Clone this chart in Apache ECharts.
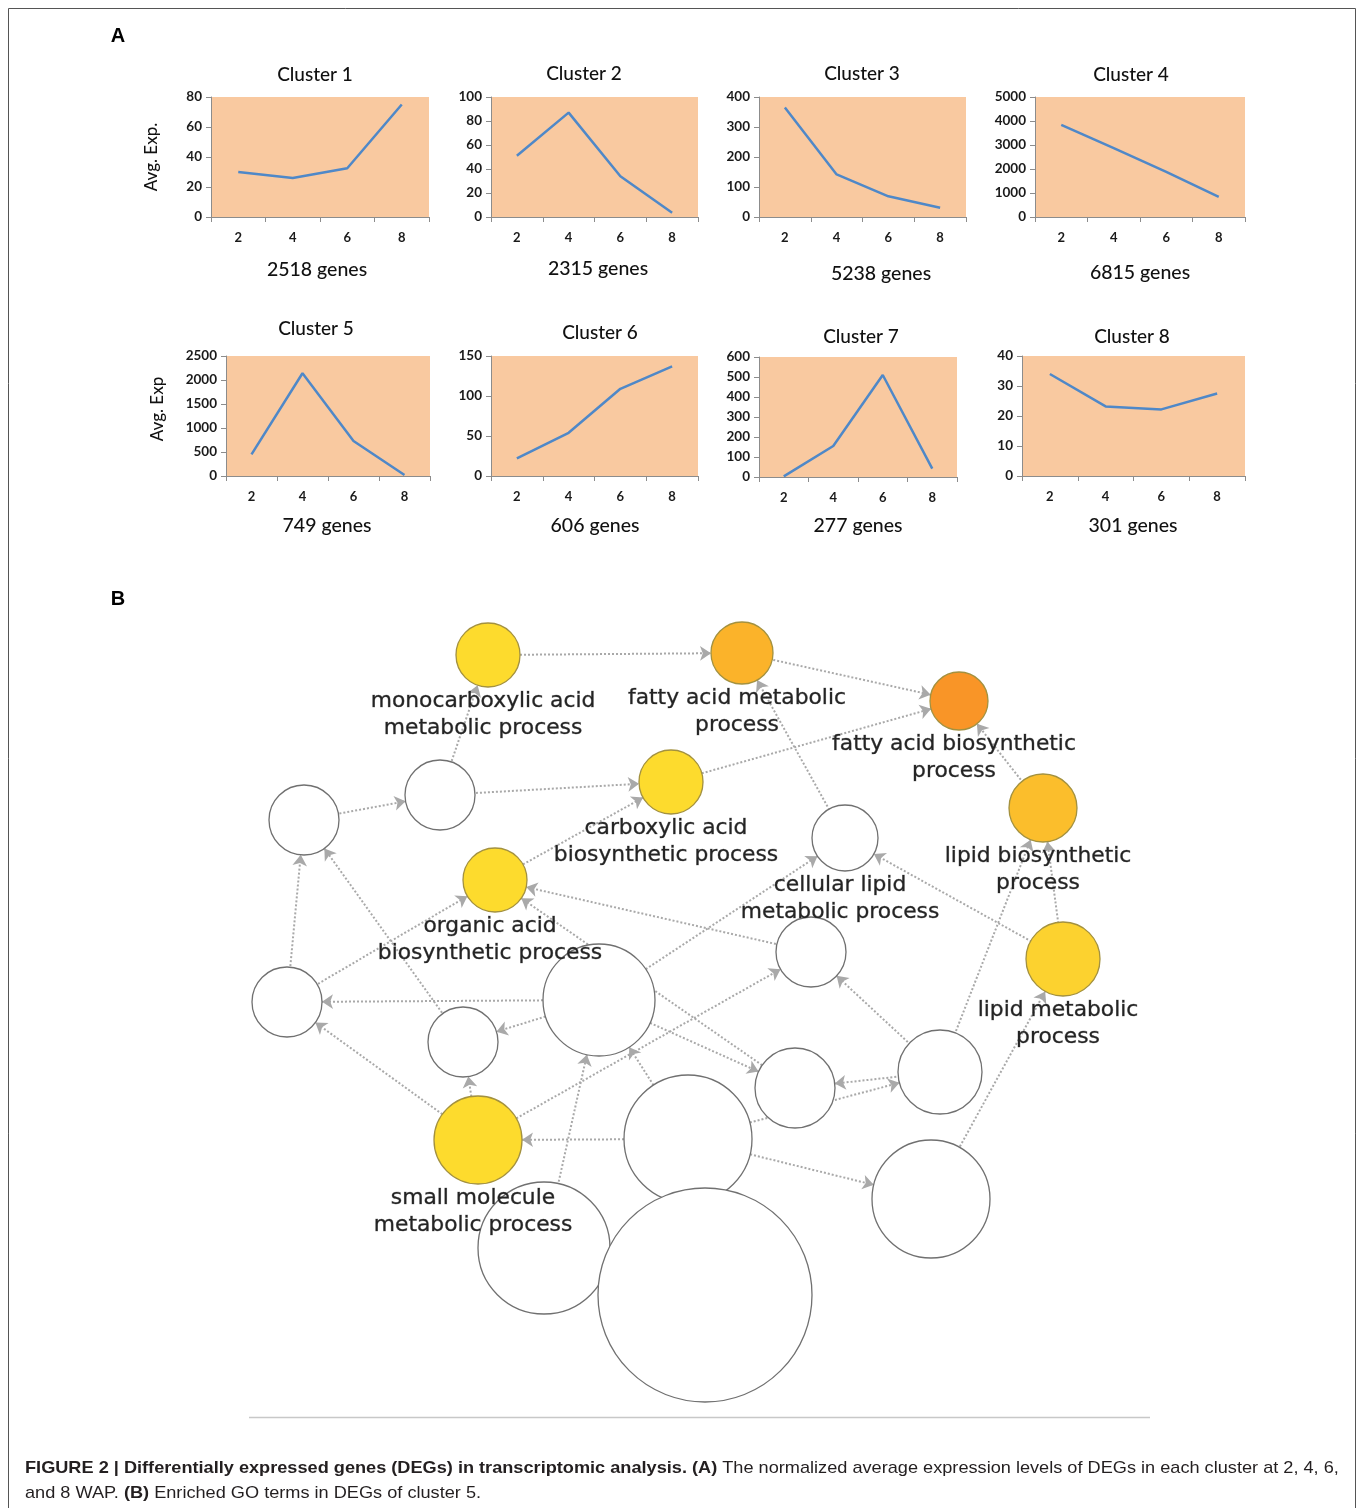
<!DOCTYPE html>
<html><head><meta charset="utf-8">
<style>html,body{margin:0;padding:0;background:#fff}#c{width:1360px;height:1508px}</style>
<script src="https://cdn.jsdelivr.net/npm/echarts@6/dist/echarts.min.js"></script>
</head><body><div id="c"></div><script>
// ---------- Panel A data ----------
const weeks = ['2', '4', '6', '8'];
const clusterNames = ['Cluster 1', 'Cluster 2', 'Cluster 3', 'Cluster 4', 'Cluster 5', 'Cluster 6', 'Cluster 7', 'Cluster 8'];
const geneCounts = ['2518 genes', '2315 genes', '5238 genes', '6815 genes', '749 genes', '606 genes', '277 genes', '301 genes'];
const cluster1 = [30, 26, 32.5, 75];
const cluster2 = [51, 87, 34, 3.5];
const cluster3 = [365, 142, 69, 31];
const cluster4 = [3840, 2870, 1880, 840];
const cluster5 = [450, 2140, 730, 20];
const cluster6 = [22, 54, 109, 137];
const cluster7 = [3, 155, 510, 42];
const cluster8 = [34, 23.2, 22.2, 27.5];
const yMaxes = [80, 100, 400, 5000, 2500, 150, 600, 40];
const yIntervals = [20, 20, 100, 1000, 500, 50, 100, 10];
const yAxisTitles = ['Avg. Exp.', 'Avg. Exp'];

// ---------- Panel B data (GO term network) ----------
const nodeLabels = [
  'monocarboxylic acid\nmetabolic process', 'fatty acid metabolic\nprocess', 'fatty acid biosynthetic\nprocess',
  '', '', 'carboxylic acid\nbiosynthetic process', 'cellular lipid\nmetabolic process', 'lipid biosynthetic\nprocess',
  'organic acid\nbiosynthetic process', '', 'lipid metabolic\nprocess', '', '', '', '', '',
  'small molecule\nmetabolic process', '', '', '', ''
];
const nodeX = [488, 742, 959, 440, 304, 671, 845, 1043, 495, 811, 1063, 287, 599, 463, 795, 940, 478, 688, 931, 544, 705];
const nodeY = [655, 653, 701, 795, 820, 782, 838, 808, 880, 952, 959, 1002, 1000, 1042, 1088, 1072, 1140, 1139, 1199, 1248, 1295];
const nodeRadius = [32, 31, 29, 35, 35, 32, 33, 34, 32, 35, 37, 35, 56, 35, 40, 42, 44, 64, 59, 66, 107];
const nodeLevel = [1, 4, 5, 0, 0, 1, 0, 3, 1, 0, 2, 0, 0, 0, 0, 0, 1, 0, 0, 0, 0];
const edgeSource = [0, 1, 5, 3, 4, 3, 6, 7, 10, 10, 15, 18, 15, 12, 9, 14, 11, 11, 12, 13, 12, 16, 16, 16, 17, 19, 17, 12, 15, 17, 17, 8];
const edgeTarget = [1, 2, 2, 5, 3, 0, 1, 2, 7, 6, 7, 10, 9, 6, 8, 8, 8, 4, 11, 4, 13, 13, 11, 9, 16, 12, 12, 14, 14, 15, 18, 5];

// ---------- build ----------
const seriesData = [cluster1, cluster2, cluster3, cluster4, cluster5, cluster6, cluster7, cluster8];
const levelColors = ['#ffffff', '#FDDB2D', '#FCD22F', '#FBBE2C', '#FBB32A', '#F99527'];
const gridBoxes = [
  [211, 97, 218, 120], [491, 97, 207, 120], [759, 97, 207, 120], [1035, 97, 210, 120],
  [226, 356, 204, 120], [491, 356, 207, 120], [759, 357, 198, 120], [1022, 356, 223, 120]
];
const titlePos = [[315, 75], [584, 74], [862, 74], [1131, 75], [316, 329], [600, 333], [861, 337], [1132, 337]];
const genePos = [[317, 270], [598, 269], [881, 274], [1140, 273], [327, 526], [595, 526], [858, 526], [1133, 526]];
const F = 'Lato, "Open Sans", sans-serif';
const axisColor = '#8c8c8c';

const grids = [], xAxes = [], yAxes = [], series = [], graphics = [];
gridBoxes.forEach((b, i) => {
  grids.push({left: b[0], top: b[1], width: b[2], height: b[3], show: true, backgroundColor: '#F9C9A0', borderWidth: 0, containLabel: false, outerBoundsMode: 'none'});
  xAxes.push({type: 'category', gridIndex: i, data: weeks, boundaryGap: true,
    axisLine: {show: true, lineStyle: {color: axisColor, width: 1}},
    axisTick: {show: true, length: 5, lineStyle: {color: axisColor}},
    axisLabel: {fontFamily: F, fontWeight: 'bold', fontSize: 13, color: '#1a1a1a', margin: 14}});
  yAxes.push({type: 'value', gridIndex: i, min: 0, max: yMaxes[i], interval: yIntervals[i],
    axisLine: {show: true, lineStyle: {color: axisColor, width: 1}},
    axisTick: {show: true, length: 5, lineStyle: {color: axisColor}},
    splitLine: {show: false},
    axisLabel: {fontFamily: F, fontWeight: 'bold', fontSize: 13.5, color: '#1a1a1a', margin: 9, formatter: v => String(v)}});
  series.push({type: 'line', xAxisIndex: i, yAxisIndex: i, data: seriesData[i], symbol: 'none', smooth: false,
    lineStyle: {color: '#4F88C8', width: 2.5}, silent: true});
  graphics.push({type: 'text', x: titlePos[i][0], y: titlePos[i][1], style: {text: clusterNames[i], textAlign: 'center', textVerticalAlign: 'middle', font: '500 19px ' + F, fill: '#111'}});
  graphics.push({type: 'text', x: genePos[i][0], y: genePos[i][1], style: {text: geneCounts[i], textAlign: 'center', textVerticalAlign: 'middle', font: '500 19.5px ' + F, fill: '#111'}});
});
graphics.push({type: 'text', x: 152, y: 157, rotation: Math.PI / 2, style: {text: yAxisTitles[0], textAlign: 'center', textVerticalAlign: 'middle', font: '500 17px ' + F, fill: '#111'}});
graphics.push({type: 'text', x: 158, y: 409, rotation: Math.PI / 2, style: {text: yAxisTitles[1], textAlign: 'center', textVerticalAlign: 'middle', font: '500 17px ' + F, fill: '#111'}});
graphics.push({type: 'text', x: 118, y: 36, style: {text: 'A', textAlign: 'center', textVerticalAlign: 'middle', font: 'bold 20px "Liberation Sans", Arial, sans-serif', fill: '#000'}});
graphics.push({type: 'text', x: 118, y: 599, style: {text: 'B', textAlign: 'center', textVerticalAlign: 'middle', font: 'bold 20px "Liberation Sans", Arial, sans-serif', fill: '#000'}});
graphics.push({type: 'rect', shape: {x: 8.5, y: 8.5, width: 1347, height: 1600}, style: {fill: 'none', stroke: '#555', lineWidth: 1}, z: -10});
graphics.push({type: 'line', shape: {x1: 249, y1: 1417.5, x2: 1150, y2: 1417.5}, style: {stroke: '#c8c8c8', lineWidth: 1.5}});
const CF = '"Liberation Sans", Arial, sans-serif';
graphics.push({type: 'text', x: 25, y: 1456, scaleX: 1.068, style: {
  text: '{b|FIGURE 2 | Differentially expressed genes (DEGs) in transcriptomic analysis. (A)}{n| The normalized average expression levels of DEGs in each cluster at 2, 4, 6,}\n{n|and 8 WAP. }{b|(B)}{n| Enriched GO terms in DEGs of cluster 5.}',
  textVerticalAlign: 'top', textAlign: 'left',
  rich: {
    b: {fontFamily: CF, fontWeight: 'bold', fontSize: 17, lineHeight: 25, fill: '#231f20'},
    n: {fontFamily: CF, fontSize: 17, lineHeight: 25, fill: '#231f20'}
  }}});

// graph grid
grids.push({left: 0, top: 0, width: 1360, height: 1508, show: false, containLabel: false, outerBoundsMode: 'none'});
xAxes.push({type: 'value', gridIndex: 8, min: 0, max: 1360, show: false});
yAxes.push({type: 'value', gridIndex: 8, min: 0, max: 1508, inverse: true, show: false});
const nodes = nodeX.map((x, i) => ({
  name: 'n' + i, value: [x, nodeY[i]], symbolSize: nodeRadius[i] * 2,
  itemStyle: {color: levelColors[nodeLevel[i]], borderColor: nodeLevel[i] ? '#a3913f' : '#707070', borderWidth: 1.3}
}));
const links = edgeSource.map((s, i) => ({source: s, target: edgeTarget[i]}));
series.push({
  type: 'graph', coordinateSystem: 'cartesian2d', xAxisIndex: 8, yAxisIndex: 8,
  data: nodes, links: links, edgeSymbol: ['none', 'arrow'], edgeSymbolSize: [0, 11],
  lineStyle: {color: '#a9a9a9', width: 2, type: 'dotted', opacity: 1, curveness: 0},
  label: {show: true, position: 'bottom', distance: 0, offset: [-5, 0], formatter: p => nodeLabels[p.dataIndex],
    fontFamily: '"DejaVu Sans", sans-serif', fontSize: 21.8, lineHeight: 27, color: '#242424', align: 'center',
    textBorderColor: 'rgba(40,40,40,0.55)', textBorderWidth: 0.6},
  emphasis: {disabled: true}, silent: true, z: 3
});

const chart = echarts.init(document.getElementById('c'), null, {renderer: 'canvas'});
chart.setOption({animation: false, grid: grids, xAxis: xAxes, yAxis: yAxes, series: series, graphic: graphics});
</script></body></html>
